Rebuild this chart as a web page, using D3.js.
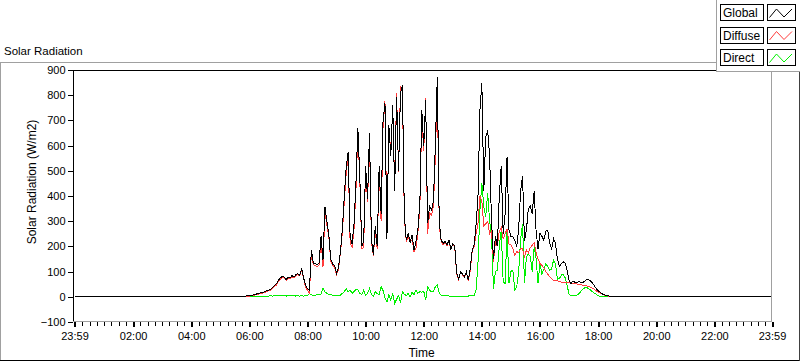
<!DOCTYPE html>
<html><head><meta charset="utf-8">
<script src="https://cdn.jsdelivr.net/npm/d3@7"></script>
<style>
body{margin:0;background:#fff;}
svg{display:block;font-family:"Liberation Sans",Arial,sans-serif;}
</style></head><body>
<svg id="c" width="800" height="361"></svg>
<script>
// ---- data ----
const seriesNames = ["Global", "Diffuse", "Direct"];
const seriesColors = ["#000000", "#ff3b3b", "#00f000"];
// first value = 23:59 previous day, last value = 23:59; the rest sampled every stepMin from dayStartMin
const dayStartMin = 340, stepMin = 4;
const globalRad = [0,
0,0,2,3,4,5,6,7,9,12,
14,16,18,20,24,27,30,36,45,52,
66,75,82,78,68,78,74,84,78,88,
92,86,112,75,45,32,25,186,133,131,
128,135,240,146,358,300,250,150,130,125,
93,115,180,270,400,516,576,239,210,285,
450,669,480,200,220,520,390,650,230,165,
280,200,520,330,701,768,230,680,560,760,
420,794,500,807,840,320,225,252,215,245,
186,220,270,371,741,600,781,291,360,344,
380,600,874,300,225,212,219,205,225,190,
212,200,93,70,100,90,80,99,66,110,
185,205,285,397,741,847,420,635,660,560,
300,150,240,200,400,520,250,330,556,265,
240,239,225,200,270,420,480,220,265,350,
360,330,420,260,190,252,240,225,260,265,
212,190,230,212,150,120,132,139,133,105,
65,53,62,58,56,60,58,55,62,68,
68,64,55,45,33,24,18,12,8,6,
4,3,1,0,
0];
const diffuseRad = [0,
0,0,1,1,2,3,4,4,7,9,
11,13,15,17,21,24,26,33,41,47,
62,70,78,74,65,74,70,81,74,85,
88,83,106,72,40,26,15,176,127,125,
120,126,228,118,340,286,240,142,124,119,
88,109,174,256,380,490,560,214,196,265,
420,650,466,192,195,514,376,625,220,163,
260,188,512,300,676,775,250,672,575,750,
440,810,495,835,825,310,220,238,215,227,
178,193,256,351,723,578,790,251,333,324,
358,560,827,286,218,207,216,201,222,187,
210,197,90,68,97,87,77,97,63,105,
181,199,250,291,400,380,280,290,300,250,
260,140,220,200,260,275,230,250,270,210,
205,190,165,180,175,190,190,160,185,175,
195,205,215,175,150,132,125,115,100,90,
80,72,66,66,63,60,58,57,56,55,
55,54,53,52,51,50,48,46,44,43,
41,38,34,30,24,19,15,11,7,5,
3,2,1,0,
0];
const directRad = [0,
0,0,1,2,2,2,2,3,2,3,
3,3,3,3,3,3,4,3,4,5,
4,5,4,4,3,4,4,3,4,3,
4,3,4,3,5,6,13,8,5,6,
8,9,10,33,20,14,10,8,6,6,
5,6,6,14,20,33,20,27,14,20,
30,27,14,8,27,6,14,33,10,2,
20,12,8,40,25,-5,-20,8,-13,14,
-26,-10,5,-24,20,10,5,14,0,18,
8,27,14,20,18,22,-13,40,27,20,
22,40,47,14,7,5,3,4,3,3,
2,3,3,2,3,3,3,2,3,5,
4,6,27,132,344,450,357,318,411,300,
239,30,100,106,200,265,60,53,260,53,
100,106,27,40,100,230,290,53,159,170,
160,100,200,150,53,132,90,110,130,120,
106,110,146,130,70,72,86,90,75,45,
10,4,3,4,6,12,20,30,35,37,
33,27,20,15,10,5,2,1,0,0,
0,0,0,0,
0];
const xTickTimes = [-1,120,240,360,480,600,720,840,960,1080,1200,1320,1439];
const xTickLabels = ["23:59","02:00","04:00","06:00","08:00","10:00","12:00","14:00","16:00","18:00","20:00","22:00","23:59"];
const yTicks = [-100,0,100,200,300,400,500,600,700,800,900];
const chartTitle = "Solar Radiation";
const yTitle = "Solar Radiation (W/m2)";
const xTitle = "Time";

// ---- drawing ----
const svg = d3.select("#c");
const GRAY = "#a0a0a0";
const x = d3.scaleLinear().domain([-1, 1439]).range([74.5, 772]);
const y = d3.scaleLinear().domain([-100, 900]).range([322, 70]);
const n = globalRad.length;
const times = globalRad.map((_, i) => i === 0 ? -1 : (i === n - 1 ? 1439 : dayStartMin + (i - 1) * stepMin));

function hline(x1, x2, yy, c) { svg.append("line").attr("x1", x1).attr("x2", x2).attr("y1", yy).attr("y2", yy).attr("stroke", c).attr("shape-rendering", "crispEdges"); }
function vline(xx, y1, y2, c) { svg.append("line").attr("x1", xx).attr("x2", xx).attr("y1", y1).attr("y2", y2).attr("stroke", c).attr("shape-rendering", "crispEdges"); }

// outer frame
hline(0, 717, 62.5, GRAY);
vline(0.5, 62, 361, GRAY);
hline(0, 800, 360.5, "#000");
vline(799.5, 62, 361, "#404040");

svg.append("text").attr("x", 4).attr("y", 55).attr("font-size", "11.5px").attr("fill", "#000").text(chartTitle);

// plot area
svg.append("defs").append("clipPath").attr("id", "clip").append("rect")
  .attr("x", 74).attr("y", 70).attr("width", 698).attr("height", 252);

const line = d3.line().x((d, i) => x(times[i])).y(d => y(d));
const g = svg.append("g").attr("clip-path", "url(#clip)");
[[directRad, 2], [diffuseRad, 1], [globalRad, 0]].forEach(([vals, k]) => {
  g.append("path").datum(vals).attr("d", line).attr("fill", "none")
    .attr("stroke", seriesColors[k]).attr("stroke-width", 1).attr("shape-rendering", "crispEdges");
});

hline(73, 772, 70.5, "#000");
vline(73.5, 70, 322, "#000");
vline(771.5, 70, 322, GRAY);
hline(73, 772, 321.5, GRAY);

// y axis
const yAxis = svg.append("g").attr("transform", "translate(73,0)")
  .call(d3.axisLeft(y).tickValues(yTicks).tickSize(5).tickPadding(2.5));
yAxis.select(".domain").remove();
yAxis.selectAll("line").attr("stroke", "#000").attr("shape-rendering", "crispEdges");
yAxis.selectAll("text").attr("font-size", "11px").attr("fill", "#000").attr("font-family", "Liberation Sans, Arial, sans-serif");

// x axis minor
const minorTimes = d3.range(15, 1439, 15).filter(t => t % 120 !== 0);
const xMinor = svg.append("g").attr("transform", "translate(0,322)")
  .call(d3.axisBottom(x).tickValues(minorTimes).tickSize(4).tickFormat(""));
xMinor.select(".domain").remove();
xMinor.selectAll("line").attr("stroke", "#000").attr("shape-rendering", "crispEdges");

// x axis major
const xAxis = svg.append("g").attr("transform", "translate(0,322)")
  .call(d3.axisBottom(x).tickValues(xTickTimes).tickSize(5).tickPadding(5.5).tickFormat((d, i) => xTickLabels[i]));
xAxis.select(".domain").remove();
xAxis.selectAll("line").attr("stroke", "#000").attr("stroke-width", 2).attr("shape-rendering", "crispEdges");
xAxis.selectAll("text").attr("font-size", "11px").attr("fill", "#000").attr("font-family", "Liberation Sans, Arial, sans-serif");

svg.append("text").attr("transform", "translate(36,182) rotate(-90)").attr("text-anchor", "middle")
  .attr("font-size", "12px").attr("fill", "#000").text(yTitle);
svg.append("text").attr("x", 421.5).attr("y", 357).attr("text-anchor", "middle")
  .attr("font-size", "12px").attr("fill", "#000").text(xTitle);

// legend
svg.append("rect").attr("x", 717).attr("y", 0).attr("width", 83).attr("height", 71.5).attr("fill", "#fff");
vline(716.5, 0, 72, GRAY);
hline(716, 800, 71.5, GRAY);
seriesNames.forEach((name, k) => {
  const top = 4.5 + k * 22.5;
  svg.append("rect").attr("x", 720.5).attr("y", top).attr("width", 42.5).attr("height", 16)
    .attr("fill", "#fff").attr("stroke", "#000").attr("shape-rendering", "crispEdges");
  svg.append("text").attr("x", 723).attr("y", top + 12.5).attr("font-size", "12px").attr("fill", "#000").text(name);
  svg.append("rect").attr("x", 767.5).attr("y", top).attr("width", 28).attr("height", 16)
    .attr("fill", "#fff").attr("stroke", "#000").attr("shape-rendering", "crispEdges");
  const pts = [[769.5, top + 13], [776.5, top + 4.5], [784, top + 12.5], [792, top + 4.5]];
  svg.append("path").attr("d", d3.line()(pts)).attr("fill", "none").attr("stroke", seriesColors[k]).attr("stroke-width", 1);
});
</script>
</body></html>
